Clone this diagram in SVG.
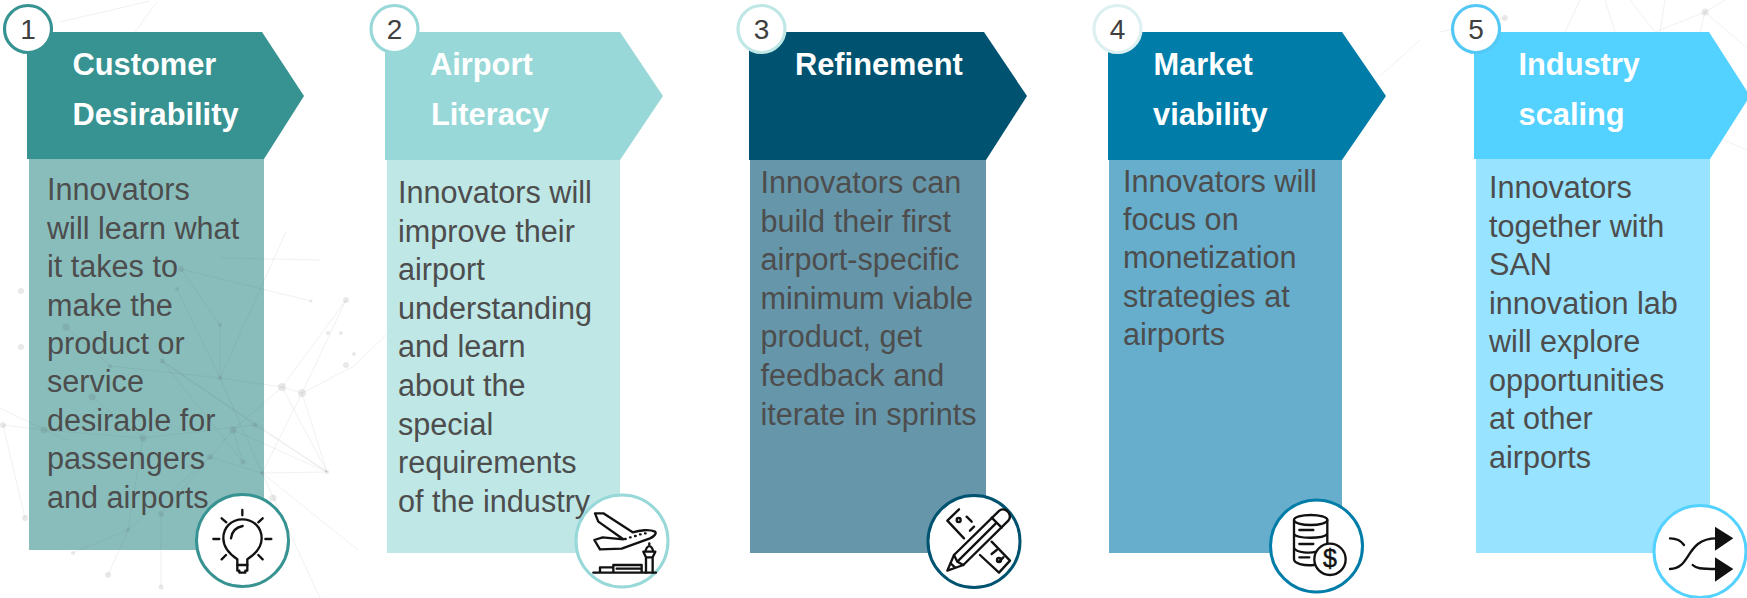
<svg xmlns="http://www.w3.org/2000/svg" width="1747" height="598" viewBox="0 0 1747 598">
<style>
text{font-family:"Liberation Sans",Arial,sans-serif}
.h{font-size:30.800px;font-weight:700;fill:#fff}
.b{font-size:30.600px;fill:#4d4d4d}
.n{font-size:28px;fill:#404040;text-anchor:middle}
.num{fill:#fff;stroke-width:3.2}
.bigring{fill:#fff;stroke-width:3}
.ic{fill:none;stroke:#111;stroke-width:7;stroke-linecap:round;stroke-linejoin:round}
.net line{stroke:#555;stroke-width:.7;opacity:.11}
.net circle{fill:#555;opacity:.13}
</style>
<rect width="1747" height="598" fill="#fff"/>
<g id="bodies">
<rect x="29" y="159" width="235" height="391" fill="#88bdbc"/>
<rect x="387" y="160" width="233" height="393" fill="#bee7e6"/>
<rect x="750" y="160" width="236" height="393" fill="#6696aa"/>
<rect x="1109" y="160" width="233" height="393" fill="#66aecb"/>
<rect x="1476" y="159" width="234" height="394" fill="#98e3ff"/>
</g>
<g id="background-network" class="net">
<line x1="181" y1="269" x2="220" y2="325"/><line x1="177" y1="289" x2="220" y2="378"/><line x1="220" y1="325" x2="220" y2="378"/><line x1="220" y1="378" x2="286" y2="232"/><line x1="162" y1="361" x2="255" y2="425"/><line x1="162" y1="361" x2="243" y2="462"/><line x1="162" y1="361" x2="327" y2="472"/><line x1="110" y1="366" x2="220" y2="378"/><line x1="220" y1="378" x2="282" y2="387"/><line x1="282" y1="387" x2="302" y2="393"/><line x1="220" y1="378" x2="262" y2="473"/><line x1="233" y1="430" x2="327" y2="472"/><line x1="255" y1="425" x2="327" y2="472"/><line x1="262" y1="473" x2="327" y2="472"/><line x1="233" y1="430" x2="243" y2="462"/><line x1="210" y1="457" x2="233" y2="430"/><line x1="210" y1="457" x2="262" y2="473"/><line x1="143" y1="438" x2="255" y2="425"/><line x1="44" y1="430" x2="143" y2="438"/><line x1="92" y1="397" x2="143" y2="438"/><line x1="66" y1="327" x2="110" y2="366"/><line x1="128" y1="530" x2="210" y2="457"/><line x1="128" y1="530" x2="143" y2="438"/><line x1="161" y1="514" x2="210" y2="457"/><line x1="108" y1="575" x2="128" y2="530"/><line x1="161" y1="587" x2="161" y2="514"/><line x1="282" y1="387" x2="233" y2="430"/><line x1="282" y1="387" x2="327" y2="472"/><line x1="302" y1="393" x2="327" y2="472"/><line x1="302" y1="393" x2="262" y2="473"/><line x1="302" y1="393" x2="354" y2="366"/><line x1="302" y1="393" x2="346" y2="300"/><line x1="282" y1="387" x2="346" y2="300"/><line x1="354" y1="366" x2="386" y2="335"/><line x1="181" y1="269" x2="311" y2="301"/><line x1="220" y1="258" x2="320" y2="260"/><line x1="3" y1="425" x2="44" y2="430"/><line x1="0" y1="408" x2="66" y2="440"/><line x1="3" y1="425" x2="25" y2="518"/><line x1="262" y1="473" x2="358" y2="550"/><line x1="262" y1="473" x2="320" y2="598"/><line x1="73" y1="553" x2="128" y2="530"/><line x1="150" y1="1" x2="60" y2="22"/><line x1="157" y1="2" x2="135" y2="32"/><line x1="1505" y1="18" x2="1440" y2="32"/><line x1="1705" y1="12" x2="1655" y2="32"/><line x1="1705" y1="12" x2="1747" y2="48"/><line x1="1705" y1="12" x2="1700" y2="32"/><line x1="1665" y1="0" x2="1660" y2="32"/><line x1="1580" y1="0" x2="1565" y2="32"/><line x1="1605" y1="0" x2="1615" y2="32"/><line x1="1630" y1="0" x2="1655" y2="32"/><line x1="1725" y1="0" x2="1705" y2="12"/><line x1="1747" y1="150" x2="1712" y2="135"/><line x1="1380" y1="76" x2="1420" y2="40"/>
<circle cx="181" cy="269" r="3"/><circle cx="177" cy="289" r="2"/><circle cx="220" cy="325" r="2"/><circle cx="220" cy="378" r="2"/><circle cx="162" cy="361" r="2.500"/><circle cx="110" cy="366" r="2"/><circle cx="66" cy="327" r="3.500"/><circle cx="92" cy="397" r="3.500"/><circle cx="44" cy="430" r="3.500"/><circle cx="143" cy="438" r="3.500"/><circle cx="233" cy="430" r="3.500"/><circle cx="255" cy="425" r="2.500"/><circle cx="210" cy="457" r="3"/><circle cx="243" cy="462" r="2.500"/><circle cx="262" cy="473" r="2"/><circle cx="327" cy="472" r="2"/><circle cx="282" cy="387" r="4"/><circle cx="302" cy="393" r="4"/><circle cx="273" cy="498" r="3.500"/><circle cx="161" cy="514" r="3"/><circle cx="128" cy="530" r="2"/><circle cx="311" cy="301" r="1.500"/><circle cx="346" cy="300" r="3"/><circle cx="354" cy="354" r="2"/><circle cx="346" cy="365" r="3"/><circle cx="328" cy="333" r="2"/><circle cx="341" cy="333" r="2"/><circle cx="21" cy="291" r="3"/><circle cx="21" cy="347" r="3"/><circle cx="3" cy="425" r="3"/><circle cx="25" cy="518" r="3"/><circle cx="108" cy="575" r="3"/><circle cx="161" cy="587" r="2.500"/><circle cx="73" cy="553" r="2"/><circle cx="1505" cy="18" r="3"/><circle cx="1705" cy="12" r="3.500"/>
</g>
<g id="step-1">
<path d="M27 32H262L304 96 264 159H27Z" fill="#379391"/>
<text class="h" x="72.500" y="75">Customer</text><text class="h" x="72.500" y="125">Desirability</text>
<text class="b"><tspan x="47" y="200.300">Innovators</tspan><tspan x="47" y="238.700">will learn what</tspan><tspan x="47" y="277.100">it takes to</tspan><tspan x="47" y="315.500">make the</tspan><tspan x="47" y="353.900">product or</tspan><tspan x="47" y="392.300">service</tspan><tspan x="47" y="430.700">desirable for</tspan><tspan x="47" y="469.100">passengers</tspan><tspan x="47" y="507.500">and airports</tspan></text>
<circle class="num" cx="28" cy="29" r="23.500" stroke="#379391"/><text class="n" x="28" y="39">1</text>
<circle class="bigring" cx="242.500" cy="540.500" r="46" stroke="#379391"/>
<g class="ic" transform="translate(160 470) scale(.3333)"><path d="M232 268C205 250 190 230 190 205 190 172 215 148 247 148 280 148 305 172 305 205 305 230 290 250 262 268V285H232Z"/><path d="M232 285V302H238V308H256V302H262V285"/><path d="M213 205C215 185 228 172 248 168"/><path d="M247 120V136M160 207H178M316 207H334M185 145L199 157M308 145L295 157M185 268L198 255M308 268L295 255"/></g>
</g>
<g id="step-2">
<path d="M385 32H620L663 96 620 160H385Z" fill="#98d8d8"/>
<text class="h" x="430" y="75">Airport</text><text class="h" x="431" y="125">Literacy</text>
<text class="b"><tspan x="398" y="203">Innovators will</tspan><tspan x="398" y="241.600">improve their</tspan><tspan x="398" y="280.200">airport</tspan><tspan x="398" y="318.800">understanding</tspan><tspan x="398" y="357.400">and learn</tspan><tspan x="398" y="396">about the</tspan><tspan x="398" y="434.600">special</tspan><tspan x="398" y="473.200">requirements</tspan><tspan x="398" y="511.800">of the industry</tspan></text>
<circle class="num" cx="394.500" cy="29" r="23.500" stroke="#98d8d8"/><text class="n" x="394.500" y="39">2</text>
<circle class="bigring" cx="622" cy="541" r="46" stroke="#98d8d8"/>
<g class="ic" transform="translate(560 480) scale(.3333)"><path d="M285 155C270 148 240 150 218 157L130 100 105 100 115 125 190 178 128 172 103 180 120 208 185 206 270 175C285 168 290 160 285 155Z"/><path d="M195 177H197M210 172H212M225 168H227M240 163H242M255 160H257"/><path d="M100 278H288M120 278V262H160M160 278V255H245V278M170 266H240"/><path d="M258 278V232H278V278M250 215H286L278 232H258ZM256 215C258 205 262 200 268 198 274 200 278 205 280 215M268 198V190"/></g>
</g>
<g id="step-3">
<path d="M749 32H984L1027 96 986 160H749Z" fill="#005370"/>
<text class="h" x="795" y="75">Refinement</text>
<text class="b"><tspan x="760.500" y="193">Innovators can</tspan><tspan x="760.500" y="231.600">build their first</tspan><tspan x="760.500" y="270.200">airport-specific</tspan><tspan x="760.500" y="308.800">minimum viable</tspan><tspan x="760.500" y="347.400">product, get</tspan><tspan x="760.500" y="386">feedback and</tspan><tspan x="760.500" y="424.600">iterate in sprints</tspan></text>
<circle class="num" cx="761.500" cy="29" r="23.500" stroke="#bee7e6"/><text class="n" x="761.500" y="39">3</text>
<circle class="bigring" cx="974" cy="541.500" r="46" stroke="#005370"/>
<g class="ic" transform="translate(900 470) scale(.3333)"><path d="M177 118L142 152 192 205M240 255L297 308 330 272 275 215M222 170L210 182M200 140L215 155M290 240L275 252M310 262L298 274"/><circle cx="176" cy="150" r="6"/><circle cx="297" cy="270" r="6"/><path d="M142 302L162 255 298 122C308 115 320 118 326 128 332 138 330 146 325 152L190 285Z"/><path d="M162 255L172 275 190 285M152 280L165 292M275 143L305 173M172 275L290 158"/></g>
</g>
<g id="step-4">
<path d="M1108 32H1342L1386 96 1342 160H1108Z" fill="#007ca8"/>
<text class="h" x="1153.500" y="75">Market</text><text class="h" x="1153" y="125">viability</text>
<text class="b"><tspan x="1123" y="192">Innovators will</tspan><tspan x="1123" y="230.200">focus on</tspan><tspan x="1123" y="268.400">monetization</tspan><tspan x="1123" y="306.600">strategies at</tspan><tspan x="1123" y="344.800">airports</tspan></text>
<circle class="num" cx="1117.500" cy="29" r="23.500" stroke="#ddf0f1"/><text class="n" x="1117.500" y="39">4</text>
<circle class="bigring" cx="1316.500" cy="546" r="46" stroke="#007ca8"/>
<g class="ic" transform="translate(1250 470) scale(.3333)"><ellipse cx="182" cy="150" rx="50" ry="15"/><path d="M132 150V268C132 280 160 288 192 285M232 150V225M132 192C140 207 220 207 232 192M132 234C140 249 180 250 200 245M148 180H190M148 222H190M148 262H178"/><circle cx="240" cy="268" r="47" fill="#fff"/></g>
<text x="1330" y="567" font-size="25" fill="#111" stroke="#111" stroke-width=".5" text-anchor="middle">$</text>
</g>
<g id="step-5">
<path d="M1474 32H1709L1750 96 1710 159H1474Z" fill="#53d1ff"/>
<text class="h" x="1518.500" y="75">Industry</text><text class="h" x="1518.500" y="125">scaling</text>
<text class="b"><tspan x="1489" y="198">Innovators</tspan><tspan x="1489" y="236.500">together with</tspan><tspan x="1489" y="275">SAN</tspan><tspan x="1489" y="313.500">innovation lab</tspan><tspan x="1489" y="352">will explore</tspan><tspan x="1489" y="390.500">opportunities</tspan><tspan x="1489" y="429">at other</tspan><tspan x="1489" y="467.500">airports</tspan></text>
<circle class="num" cx="1476" cy="29" r="23.500" stroke="#53c8f5"/><text class="n" x="1476" y="39">5</text>
<circle class="bigring" cx="1700" cy="551.500" r="46" stroke="#53d1ff"/>
<g transform="translate(1630 470) scale(.3333)"><path class="ic" d="M120 297C185 297 165 205 260 205M120 205C140 205 152 210 162 225M188 285C198 295 210 297 260 297"/><path d="M255 170L310 205 255 242ZM255 262L310 297 255 335Z" fill="#111"/></g>
</g>
</svg>
